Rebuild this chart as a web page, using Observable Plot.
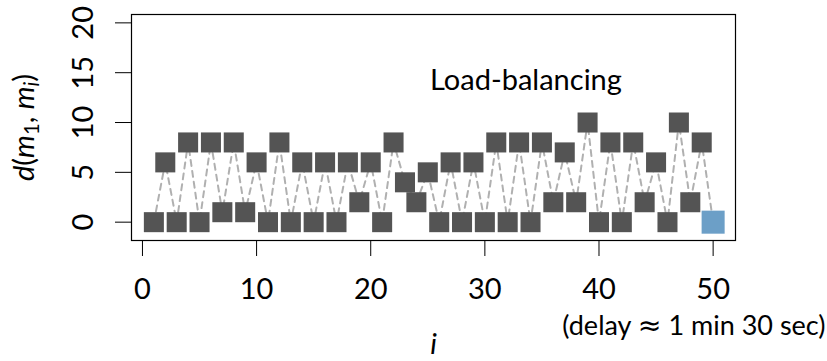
<!DOCTYPE html>
<html><head><meta charset="utf-8">
<script src="https://cdn.jsdelivr.net/npm/d3@7"></script>
<script src="https://cdn.jsdelivr.net/npm/@observablehq/plot@0.6"></script>
<style>
body{margin:0;background:#fff}
svg{font-family:Lato,"Open Sans",sans-serif}
</style>
</head><body><div id="chart"></div>
<script>
const iValues = [1,2,3,4,5,6,7,8,9,10,11,12,13,14,15,16,17,18,19,20,21,22,23,24,25,26,27,28,29,30,31,32,33,34,35,36,37,38,39,40,41,42,43,44,45,46,47,48,49,50];
const dValues = [0,6,0,8,0,8,1,8,1,6, 0,8,0,6,0,6,0,6,2,6, 0,8,4,2,5,0,6,0,6,0, 8,0,8,0,8,2,7,2,10,0, 8,0,8,2,6,0,10,2,8,0];
const highlighted = [50];
const xTicks = [0,10,20,30,40,50];
const yTicks = [0,5,10,15,20];
const annotation = [{x: 33.6, y: 13.3, text: "Load-balancing"}];
const xLabel = "i";
const xNote = "(delay \u2248 1 min 30 sec)";
const yLabel = "d(m1, mi)";

const data = iValues.map((i, k) => ({i, d: dValues[k], hi: highlighted.includes(i)}));

const plot = Plot.plot({
  width: 827,
  height: 361,
  marginLeft: 131,
  marginRight: 92,
  marginTop: 14,
  marginBottom: 121,
  style: {fontFamily: "Lato, 'Open Sans', sans-serif", background: "#fff", overflow: "visible"},
  x: {domain: [-0.96, 51.96]},
  y: {domain: [-1.84, 20.84]},
  marks: [
    Plot.line(data, {x: "i", y: "d", stroke: "#b0b0b0", strokeWidth: 2, strokeDasharray: "6,5"}),
    Plot.dot(data.filter(d => !d.hi), {x: "i", y: "d", symbol: "square", r: 11.3, fill: "#545454", stroke: "none"}),
    Plot.dot(data.filter(d => d.hi), {x: "i", y: "d", symbol: "square", r: 13, fill: "#6c9fc7", stroke: "none"}),
    Plot.frame({stroke: "#000", strokeWidth: 1.2}),
    Plot.axisX(xTicks, {tickSize: 16, tickPadding: 22, fontSize: 29, label: null, tickFormat: d => String(d), stroke: "#000", fill: "#000"}),
    Plot.axisY(yTicks, {tickSize: 16, tickFormat: () => "", label: null, stroke: "#000"}),
    Plot.text(yTicks, {y: d => d, text: d => String(d), frameAnchor: "left", dx: -48, rotate: -90, fontSize: 29, textAnchor: "middle", lineAnchor: "middle", fill: "#000"}),
    Plot.text(annotation, {x: "x", y: "y", text: "text", fontSize: 29, textAnchor: "middle", lineAnchor: "bottom", fill: "#000"}),
    Plot.text([xNote], {text: d => d, frameAnchor: "bottom-right", dx: 90, dy: 94, textAnchor: "end", lineAnchor: "bottom", fontSize: 27, fill: "#000"}),
    Plot.text([xLabel], {text: d => d, frameAnchor: "bottom", dy: 113, textAnchor: "middle", lineAnchor: "bottom", fontSize: 29, fontStyle: "italic", fill: "#000"}),
    Plot.text([yLabel], {text: d => d, frameAnchor: "left", dx: -107, rotate: -90, textAnchor: "middle", lineAnchor: "middle", fontSize: 29, fill: "#000"})
  ]
});
document.getElementById("chart").appendChild(plot);

// Larger approx-equal sign in the delay note
d3.select(plot).selectAll("text").filter(function() { return this.textContent === xNote; }).each(function() {
  const t = d3.select(this);
  t.selectAll("*").remove();
  t.text(null);
  const [a, b] = xNote.split("\u2248");
  t.append("tspan").text(a);
  t.append("tspan").text("\u2248").attr("font-family", "DejaVu Sans").attr("font-size", "105%");
  t.append("tspan").text(b);
});

// Render the y label with italic variables and subscripts
d3.select(plot).selectAll("text").filter(function() { return this.textContent === yLabel; }).each(function() {
  const t = d3.select(this);
  t.selectAll("*").remove();
  t.text(null);
  const parts = [
    {s: "d", it: true}, {s: "(", it: false}, {s: "m", it: true},
    {s: "1", it: false, sub: true}, {s: ", ", it: false}, {s: "m", it: true},
    {s: "i", it: true, sub: true}, {s: ")", it: false}
  ];
  let shifted = false;
  parts.forEach(p => {
    const ts = t.append("tspan").text(p.s).attr("font-style", p.it ? "italic" : "normal");
    if (p.sub) { ts.attr("font-size", "70%"); if (!shifted) ts.attr("dy", "0.25em"); shifted = true; }
    else if (shifted) { ts.attr("dy", "-0.18em"); shifted = false; }
  });
});
</script>
</body></html>
